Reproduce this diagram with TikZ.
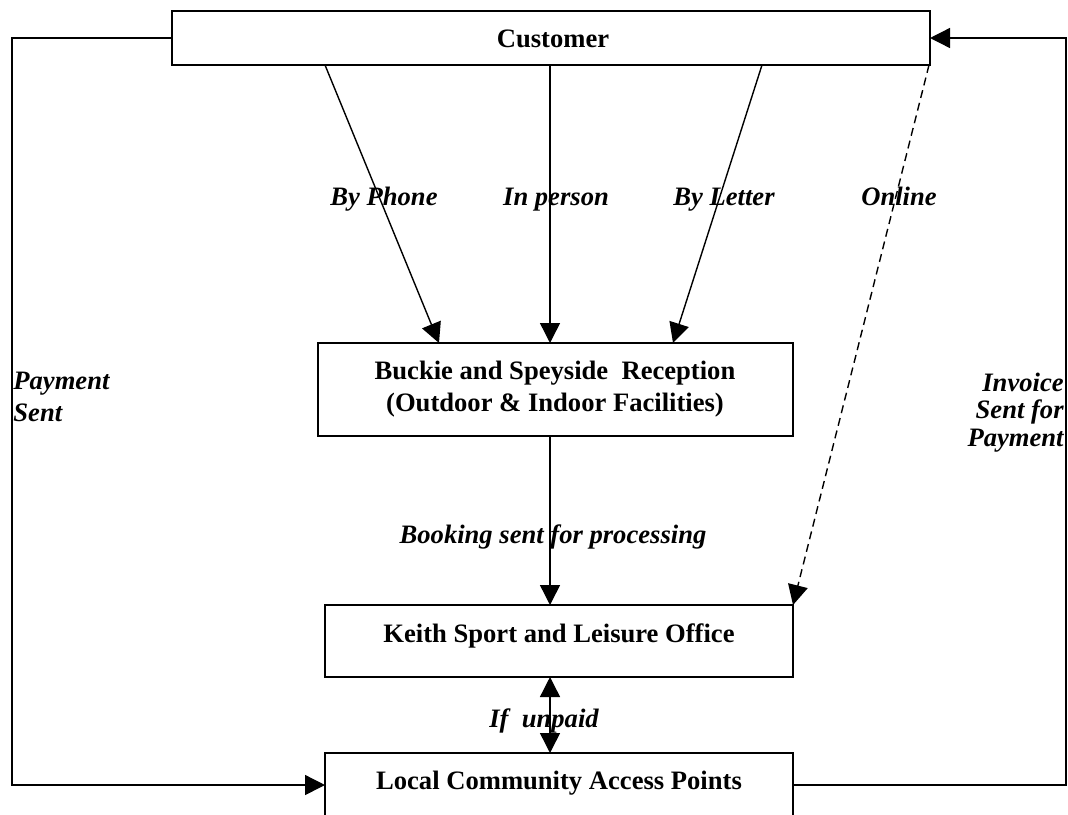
\documentclass[tikz,border=0pt]{standalone}
\usepackage{fontspec}
\setmainfont{Liberation Serif}
\usetikzlibrary{arrows.meta}
\tikzset{
  box/.style={draw, line width=0.7pt, rectangle, inner sep=0pt},
  btxt/.style={font=\fontsize{13.3}{16}\selectfont\bfseries, inner sep=0pt},
  itxt/.style={font=\fontsize{13.3}{16}\selectfont\bfseries\itshape, inner sep=0pt},
  conn/.style={line width=0.7pt, -{Triangle[length=10pt,width=10pt]}},
  dconn/.style={conn, dash pattern=on 4pt off 2.5pt},
  dbl/.style={line width=0.7pt, {Triangle[length=10pt,width=10pt]}-{Triangle[length=10pt,width=10pt]}}
}
\begin{document}
\begin{tikzpicture}[x=0.5pt,y=-0.5pt]
\clip (0,0) rectangle (1068,814);
\fill[white] (0,0) rectangle (1068,814);
% boxes
\node[box, minimum width=379pt, minimum height=27pt] (cust) at (551,38) {};
\node[btxt, anchor=base] (custt) at (553,47) {Customer};
\node[box, minimum width=237.5pt, minimum height=46.5pt] (rec) at (555.5,389.5) {};
\node[btxt, anchor=base] (rect1) at (555,379) {Buckie and Speyside\ \ Reception};
\node[btxt, anchor=base] (rect2) at (555,411) {(Outdoor \& Indoor Facilities)};
\node[box, minimum width=234pt, minimum height=36pt] (keith) at (559,641) {};
\node[btxt, anchor=base] (keitht) at (559,642) {Keith Sport and Leisure Office};
\node[box, minimum width=234pt, minimum height=36pt] (local) at (559,789) {};
\node[btxt, anchor=base] (localt) at (559,789) {Local Community Access Points};
% coordinates
\coordinate (c1) at (325,65);
\coordinate (c2) at (550,65);
\coordinate (c3) at (762,65);
\coordinate (c4) at (929,65);
\coordinate (r1) at (439,343);
\coordinate (r2) at (550,343);
\coordinate (r3) at (673,343);
\coordinate (rb) at (550,436);
\coordinate (kt) at (550,605);
\coordinate (ktr) at (793,605);
\coordinate (kb) at (550,677);
\coordinate (lt) at (550,753);
\coordinate (ll) at (325,785);
\coordinate (lr) at (793,785);
\coordinate (cl) at (172,38);
\coordinate (cr) at (930,38);
% connectors
\draw[conn] (c1) -- (r1);
\draw[conn] (c2) -- (r2);
\draw[conn] (c3) -- (r3);
\draw[dconn] (c4) -- (ktr);
\draw[conn] (rb) -- (kt);
\draw[dbl] (kb) -- (lt);
\draw[conn] (cl) -- (12,38) -- (12,785) -- (ll);
\draw[conn] (lr) -- (1066,785) -- (1066,38) -- (cr);
% labels
\node[itxt, anchor=base] (lphone) at (384,205) {By Phone};
\node[itxt, anchor=base] (lperson) at (556,205) {In person};
\node[itxt, anchor=base] (lletter) at (724,205) {By Letter};
\node[itxt, anchor=base] (lonline) at (899,205) {Online};
\node[itxt, anchor=base] (lbook) at (553,543) {Booking sent for processing};
\node[itxt, anchor=base] (lunpaid) at (544,727) {If\ \ unpaid};
\node[itxt, anchor=base west] (lpay1) at (13,389) {Payment};
\node[itxt, anchor=base west] (lpay2) at (13,421) {Sent};
\node[itxt, anchor=base east] (linv1) at (1064,391) {Invoice};
\node[itxt, anchor=base east] (linv2) at (1064,418) {Sent for};
\node[itxt, anchor=base east] (linv3) at (1064,446) {Payment};
\end{tikzpicture}
\end{document}
